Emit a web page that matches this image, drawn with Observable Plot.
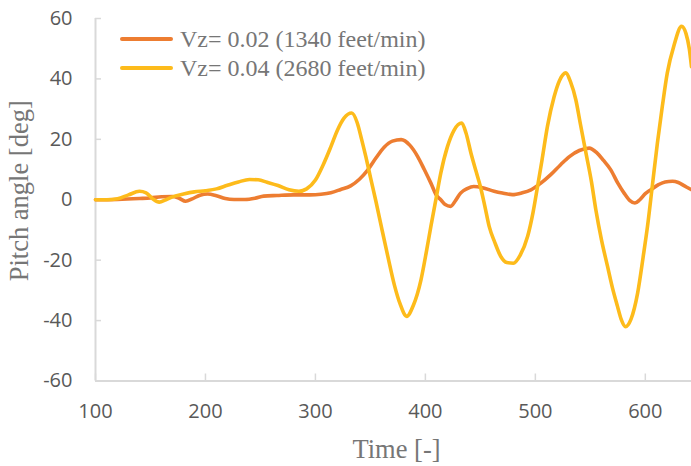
<!DOCTYPE html>
<html><head><meta charset="utf-8">
<script src="https://cdn.jsdelivr.net/npm/d3@7"></script>
<script src="https://cdn.jsdelivr.net/npm/@observablehq/plot@0.6"></script>
<style>
body{margin:0;background:#fff;}
#wrap{position:relative;width:691px;height:466px;overflow:hidden;}
.legend{position:absolute;left:120px;font:24px "Liberation Serif",serif;color:#767676;display:flex;align-items:center;white-space:nowrap;height:28px;}
.legend .sw{display:inline-block;width:53px;height:4px;margin-right:7px;border-radius:2px;}
</style></head><body><div id="wrap"></div>
<script>
const seriesNames = ["Vz= 0.02 (1340 feet/min)", "Vz= 0.04 (2680 feet/min)"];
const seriesColors = ["#ED7D31", "#FDBB1B"];
const xTicks = [100, 200, 300, 400, 500, 600];
const yTicks = [-60, -40, -20, 0, 20, 40, 60];

// Vz = 0.02
const timeA = [100,120,140,150,160,170,176,182,188,195,202,210,218,226,236,245,253,265,280,295,305,314,323,332,340,347.5,355,362.5,370,378,386,393,399,405,410,414,418,423,427,432,438,444,452,462.5,470,479,488,496,505,514,523,531,540,549,556,562,568.6,575,580.7,586,590.5,595,600,605,612,618,624.7,630,636,642];
const pitchA = [0,0.1,0.4,0.6,1,1.1,0.5,-0.5,0.3,1.5,1.9,1.3,0.4,0.1,0.1,0.5,1.2,1.4,1.6,1.6,1.8,2.3,3.4,4.6,6.8,9.8,13.8,17.4,19.4,19.9,18,14.3,10,5.5,1.5,0,-1.6,-2.2,-0.5,2.2,3.7,4.4,4,2.8,2.2,1.7,2.3,3.3,5.5,8.3,11.6,14.3,16.3,17.1,15.5,13,9.9,5.5,2.2,-0.3,-1.1,0,2,3.3,5,5.9,6.1,5.7,4.5,3.3];

// Vz = 0.04
const timeB = [100,110,120,130,140,146,152,158,164,172,180,190,200,210,220,230,240,248,256,266,276,285,292,300,307,314,320,326,333,338,342,346,350,355,360,366,372,377,383,389,396,401,405,410,414,420,426,433,437,441.4,446,450,454,458,463,468.6,474,480,486,493,498,502,506,511,517,522,527.7,532,536.8,541,546,551,555,560,565.6,570,574.7,578,582,587,593,598,602,606.5,611,615.5,620,626,633,637,640,642];
const pitchB = [0,0,0.3,1.6,2.8,2.3,0.3,-0.8,0,1.2,1.9,2.6,3,3.6,4.8,5.9,6.7,6.6,5.8,4.7,3.3,2.8,3.6,6.5,11.5,17.5,23,27,28.7,25.5,20,14,7.5,-0.5,-9,-19,-28.5,-34.5,-38.6,-35,-26.5,-17,-8.8,1,8.8,17.5,23,25.4,22,15.5,9.5,4.4,-2,-8.8,-14,-18.8,-20.8,-21,-18.5,-12.1,-4,4.4,13,24.3,34,39.5,42,39,33.1,25,15.5,6,-3.3,-13,-22,-29,-35.3,-39.5,-42,-39.5,-30.9,-19,-8.8,5,18.8,31,42,51,57.4,55,50,44];

const rowsA = timeA.map((t, i) => ({t, p: pitchA[i]}));
const rowsB = timeB.map((t, i) => ({t, p: pitchB[i]}));

const axisGray = "#d9d9d9";
const tickText = "#595959";
const titleText = "#767676";

const chart = Plot.plot({
  width: 691, height: 466,
  marginLeft: 95, marginRight: 0, marginTop: 18, marginBottom: 85.5,
  style: {fontFamily: '"Open Sans", sans-serif', fontSize: "20px", background: "white", overflow: "visible"},
  x: {domain: [100, 642]},
  y: {domain: [-60, 60]},
  marks: [
    Plot.axisX(xTicks, {tickSize: -7, tickPadding: 30, stroke: axisGray, strokeWidth: 1.5, fill: tickText, fontSize: 20, tickFormat: d => String(d), label: null}),
    Plot.axisY(yTicks, {tickSize: -6, tickPadding: 29, stroke: axisGray, strokeWidth: 1.5, fill: tickText, fontSize: 20, tickFormat: d => String(d), label: null}),
    Plot.ruleX([100], {stroke: axisGray, strokeWidth: 2}),
    Plot.ruleY([-60], {stroke: axisGray, strokeWidth: 2}),
    Plot.line(rowsA, {x: "t", y: "p", stroke: seriesColors[0], strokeWidth: 3.6, curve: "monotone-x"}),
    Plot.line(rowsB, {x: "t", y: "p", stroke: seriesColors[1], strokeWidth: 3.6, curve: "monotone-x"}),
    Plot.text(["Time [-]"], {frameAnchor: "bottom", lineAnchor: "middle", textAnchor: "middle", dx: 3, dy: 69, fontSize: 26.5, fontFamily: '"Liberation Serif", serif', fill: titleText}),
    Plot.text(["Pitch angle [deg]"], {frameAnchor: "left", lineAnchor: "middle", textAnchor: "middle", rotate: -90, dx: -76, dy: -9, fontSize: 26.5, fontFamily: '"Liberation Serif", serif', fill: titleText})
  ]
});

const wrap = document.getElementById("wrap");
wrap.appendChild(chart);
const legendTops = [25, 54];
seriesNames.forEach((name, i) => {
  const d = document.createElement("div");
  d.className = "legend";
  d.style.top = legendTops[i] + "px";
  d.innerHTML = `<span class="sw" style="background:${seriesColors[i]}"></span><span>${name}</span>`;
  wrap.appendChild(d);
});
</script>
</body></html>
